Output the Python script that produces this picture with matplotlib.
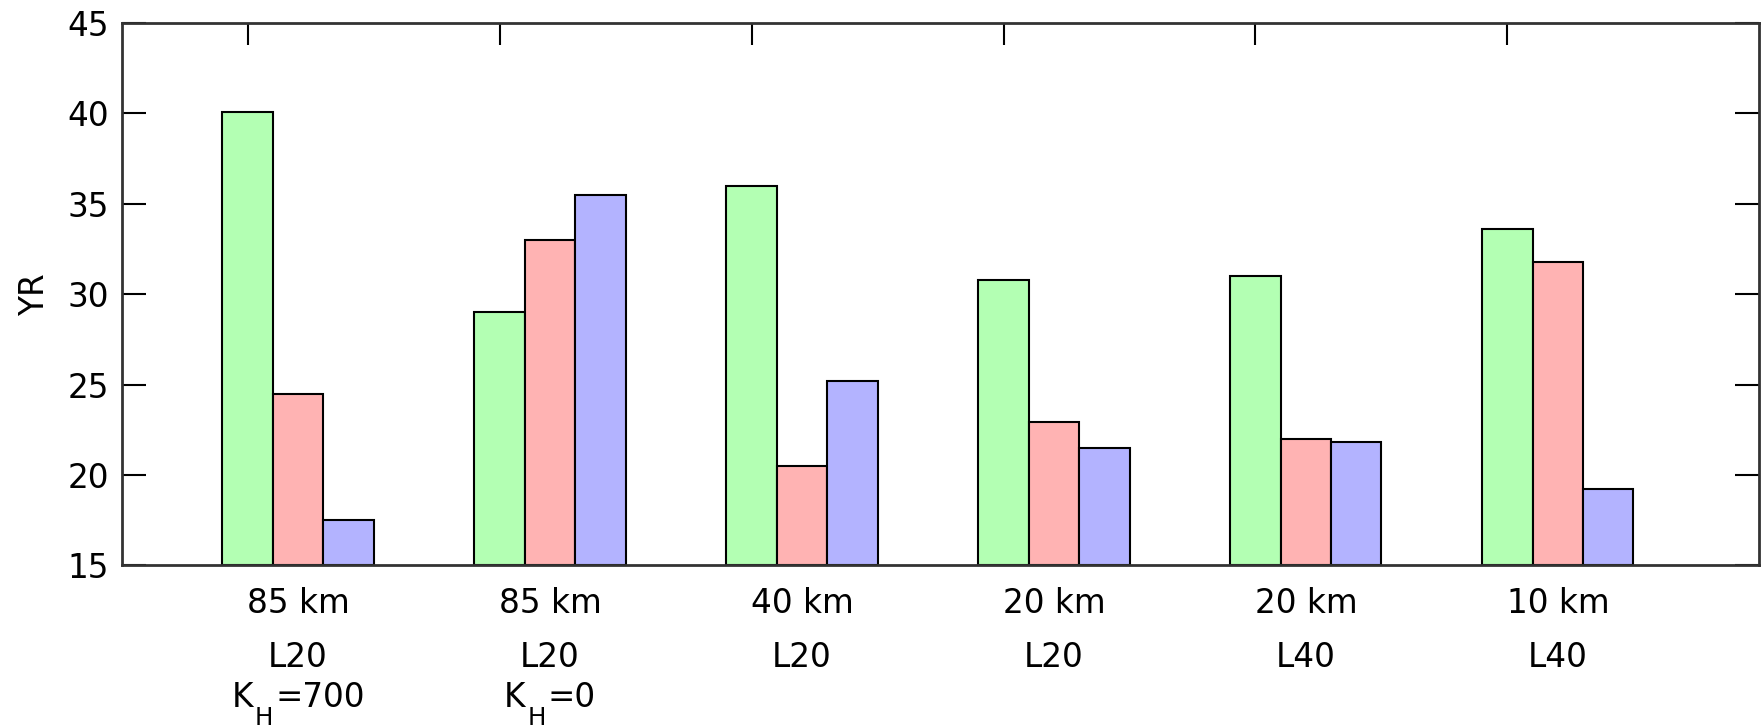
import numpy as np
import matplotlib
matplotlib.use('Agg')
import matplotlib.pyplot as plt
from matplotlib.transforms import offset_copy

plt.rcParams['font.family'] = ['DejaVu Sans']

# data
resolution = ['85 km', '85 km', '40 km', '20 km', '20 km', '10 km']
levels = ['L20', 'L20', 'L20', 'L20', 'L40', 'L40']
kh_values = ['700', '0', '', '', '', '']
green_vals = [40.05, 29.0, 36.0, 30.8, 31.0, 33.6]
red_vals = [24.5, 33.0, 20.5, 22.95, 22.0, 31.8]
blue_vals = [17.5, 35.5, 25.2, 21.5, 21.8, 19.25]
yticks = [15, 20, 25, 30, 35, 40, 45]

colors = [(0.7, 1.0, 0.7), (1.0, 0.7, 0.7), (0.7, 0.7, 1.0)]
width = 0.2
FS = 23.5

fig = plt.figure(figsize=(17.61, 7.27), dpi=100)
ax = fig.add_axes([0.0691, 0.2222, 0.9300, 0.7462])

x = np.arange(1, len(resolution) + 1)
for k, vals in enumerate([green_vals, red_vals, blue_vals]):
    ax.bar(x + k * width, np.array(vals) - 15, width, bottom=15,
           color=colors[k], edgecolor='black', linewidth=1.5, zorder=2)

ax.set_xlim(0.5, 7.0)
ax.set_ylim(15, 45)
ax.set_yticks(yticks)
ax.set_xticks(x)
ax.set_xticklabels([])
ax.tick_params(axis='x', direction='in', length=16, width=1.5,
               top=True, bottom=False, labelbottom=False)
ax.tick_params(axis='y', direction='in', length=17, width=1.5,
               left=True, right=True, labelsize=FS, pad=9)
for s in ax.spines.values():
    s.set_linewidth(2)
    s.set_color('#333333')

ax.set_ylabel('YR', fontsize=FS, labelpad=12)

trans = ax.get_xaxis_transform()
renderer = fig.canvas.get_renderer()

# group labels below the axis, centred on the middle bar
for i, xi in enumerate(x + width):
    ax.text(xi, -0.087, resolution[i], transform=trans,
            ha='center', va='baseline', fontsize=FS)
    ax.text(xi, -0.1865, levels[i], transform=trans,
            ha='center', va='baseline', fontsize=FS)
    if kh_values[i]:
        # K, lowered H, then "=value"
        pieces = [('K', FS, 0), ('H', FS * 0.75, -18), ('=' + kh_values[i], FS, 0)]
        texts = []
        for s, fs, dy in pieces:
            t = ax.text(xi, -0.2603, s, transform=trans, ha='left',
                        va='baseline', fontsize=fs)
            texts.append((t, dy))
        widths = [t.get_window_extent(renderer).width for t, _ in texts]
        gap = 2
        total = sum(widths) + gap * (len(widths) - 1)
        start = -total / 2
        for (t, dy), w in zip(texts, widths):
            t.set_transform(offset_copy(trans, fig, x=start, y=dy, units='dots'))
            start += w + gap

fig.savefig('out.png', dpi=100)
